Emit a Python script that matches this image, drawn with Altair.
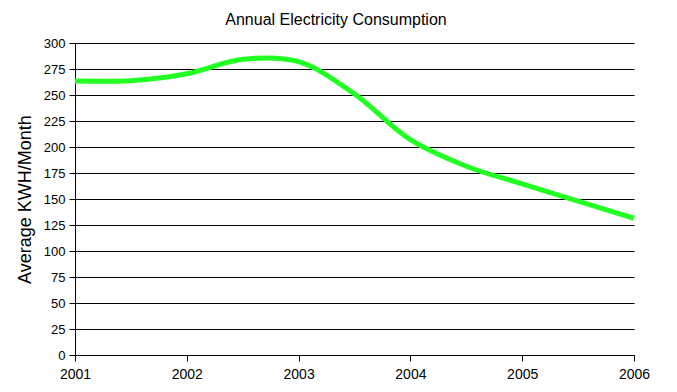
import altair as alt
import pandas as pd

title_text = "Annual Electricity Consumption"
years = [2001, 2001.5, 2002, 2002.5, 2003, 2003.5, 2004, 2004.5, 2005, 2005.5, 2006]
kwh = [263.5, 263.8, 270.5, 284.3, 282, 251, 207, 181.5, 164.5, 148, 131.5]
x_ticks = [2001, 2002, 2003, 2004, 2005, 2006]
y_ticks = list(range(0, 301, 25))

df = pd.DataFrame({"Year": years, "KWH": kwh})

line = alt.Chart(df).mark_line(
    interpolate="catmull-rom", color="#22ff22", strokeWidth=5
).encode(
    x=alt.X("Year:Q", scale=alt.Scale(domain=[2001, 2006], nice=False, zero=False),
            axis=alt.Axis(values=x_ticks, format="d", title=None, grid=False,
                          domainColor="black", tickColor="black", tickSize=6,
                          labelPadding=6, labelFontSize=14, labelColor="black",
                          labelFont="Liberation Sans", labelFlush=False)),
    y=alt.Y("KWH:Q", scale=alt.Scale(domain=[0, 300], nice=False),
            axis=alt.Axis(values=y_ticks, title="Average KWH/Month", grid=True,
                          gridColor="black", gridOpacity=1, gridWidth=1,
                          domainColor="black", tickColor="black", tickSize=6,
                          labelPadding=4, labelFontSize=13, labelColor="black",
                          labelFont="Liberation Sans", titleFont="Liberation Sans",
                          titleFontSize=18, titleFontWeight="normal", titleColor="black",
                          titleX=-50, titleY=156, titleAngle=-90, titleAlign="center",
                          titleBaseline="middle", labelFlush=False)),
)

title = alt.Chart(pd.DataFrame({"t": [title_text]})).mark_text(
    font="Liberation Sans", fontSize=16, color="black", align="center",
    baseline="alphabetic"
).encode(text="t:N", x=alt.value(261), y=alt.value(-18))

chart = alt.layer(line, title).properties(
    width=559, height=312,
    autosize=alt.AutoSizeParams(type="none"),
    padding={"left": 67, "top": 35, "right": 35, "bottom": 29},
    background="white",
).configure_view(strokeWidth=0)

chart.save("out.html", embed_options={"renderer": "svg", "actions": False})
